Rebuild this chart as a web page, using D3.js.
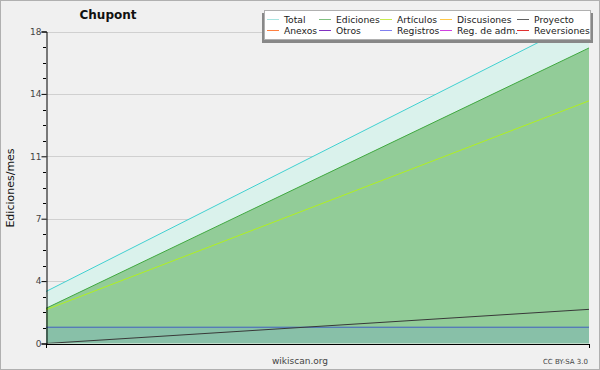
<!DOCTYPE html>
<html>
<head>
<meta charset="utf-8">
<script src="https://cdn.jsdelivr.net/npm/d3@7"></script>
<style>
  body { margin: 0; background: #f0f0f0; }
  svg { display: block; }
  text { font-family: "DejaVu Sans", sans-serif; }
</style>
</head>
<body>
<script>
// --- data ---
const periods = [0, 1];
const total      = [3.0, 18.85];
const ediciones  = [2.03, 17.05];
const articulos  = [1.95, 14.0];
const proyecto   = [0.0, 1.97];
const registros  = [0.94, 0.94];
const yTicks = [0, 3.6, 7.2, 10.8, 14.4, 18];
const legendItems = [
  ['Total', '#a8e4e0'], ['Ediciones', '#80c080'], ['Artículos', '#c8ec50'], ['Discusiones', '#ffc848'], ['Proyecto', '#606060'],
  ['Anexos', '#ff8040'], ['Otros', '#8030c0'], ['Registros', '#8080f0'], ['Reg. de adm.', '#d040e0'], ['Reversiones', '#e03030']
];

const width = 600, height = 370;
const svg = d3.select('body').append('svg').attr('width', width).attr('height', height);

svg.append('rect').attr('x', 0.5).attr('y', 0.5).attr('width', width - 1).attr('height', height - 1)
  .attr('fill', '#f0f0f0').attr('stroke', '#b0b0b0');

const x = d3.scaleLinear().domain([0, 1]).range([46, 589]);
const y = d3.scaleLinear().domain([0, 18]).range([343.5, 31.5]);

const plot = svg.append('g');
plot.append('clipPath').attr('id', 'clip').append('rect')
  .attr('x', 46).attr('y', 31.5).attr('width', 543).attr('height', 312);

// grid
plot.selectAll('line.grid').data(yTicks.slice(1)).enter().append('line')
  .attr('x1', 46).attr('x2', 589)
  .attr('y1', d => Math.round(y(d)) + 0.5).attr('y2', d => Math.round(y(d)) + 0.5)
  .attr('stroke', '#d0d0d0');

const area = vals => d3.area().x((d, i) => x(periods[i])).y0(y(0)).y1(d => y(d))(vals);
const line = vals => d3.line().x((d, i) => x(periods[i])).y(d => y(d))(vals);

const g = plot.append('g').attr('clip-path', 'url(#clip)');
g.append('path').attr('d', area(total)).attr('fill', '#daf2ec');
g.append('path').attr('d', area(ediciones)).attr('fill', '#92cc98');
g.append('path').attr('d', area(registros)).attr('fill', '#88c0a8');

g.append('path').attr('d', line(total)).attr('fill', 'none').attr('stroke', '#40d0d0');
g.append('path').attr('d', line(ediciones)).attr('fill', 'none').attr('stroke', '#40a840');
g.append('path').attr('d', line(articulos)).attr('fill', 'none').attr('stroke', '#b0f020');
g.append('path').attr('d', line(registros)).attr('fill', 'none').attr('stroke', '#4060c0');
g.append('path').attr('d', line(proyecto)).attr('fill', 'none').attr('stroke', '#383838');

// y axis
const yAxis = d3.axisLeft(y).tickValues(yTicks).tickSize(5).tickFormat(d => Math.round(d));
const ya = svg.append('g').attr('transform', 'translate(46.5,0)').call(yAxis);
ya.select('.domain').attr('stroke', '#000');
ya.selectAll('text').attr('font-size', 9).attr('fill', '#444').attr('font-family', '"DejaVu Sans", sans-serif').attr('x', -5);
const minor = d3.range(0, 18, 0.9).filter((d, i) => i % 4 !== 0);
svg.append('g').selectAll('line').data(minor).enter().append('line')
  .attr('x1', 43).attr('x2', 46)
  .attr('y1', d => Math.round(y(d)) + 0.5).attr('y2', d => Math.round(y(d)) + 0.5)
  .attr('stroke', '#000');

// x axis
const xAxis = d3.axisBottom(x).tickValues(periods).tickSize(4).tickFormat('');
const xa = svg.append('g').attr('transform', 'translate(0,344)').call(xAxis);
xa.select('.domain').attr('stroke', '#000');

// texts
svg.append('text').attr('x', 108).attr('y', 19).attr('text-anchor', 'middle')
  .attr('font-size', 12).attr('font-weight', 'bold').attr('fill', '#111').text('Chupont');
svg.append('text').attr('transform', 'translate(14,188) rotate(-90)').attr('text-anchor', 'middle')
  .attr('font-size', 11).attr('fill', '#111').text('Ediciones/mes');
svg.append('text').attr('x', 300).attr('y', 364).attr('text-anchor', 'middle')
  .attr('font-size', 9).attr('fill', '#444').text('wikiscan.org');
svg.append('text').attr('x', 588).attr('y', 364).attr('text-anchor', 'end')
  .attr('font-size', 7).attr('fill', '#444').text('CC BY-SA 3.0');

// legend
const lg = svg.append('g');
lg.append('rect').attr('x', 262).attr('y', 13).attr('width', 331).attr('height', 30).attr('fill', '#888');
lg.append('rect').attr('x', 264.5).attr('y', 10.5).attr('width', 326).attr('height', 29)
  .attr('fill', '#fff').attr('stroke', '#b0b0b0');
const colX = [267, 319, 380, 440, 517];
const item = lg.selectAll('g.item').data(legendItems).enter().append('g')
  .attr('transform', (d, i) => `translate(${colX[i % 5]},${i < 5 ? 19.5 : 30.5})`);
item.append('line').attr('x1', 0).attr('x2', 12).attr('stroke', d => d[1]).attr('stroke-width', 1);
item.append('text').attr('x', 17).attr('y', 3.5).attr('font-size', 9.2).attr('fill', '#222').text(d => d[0]);
</script>
</body>
</html>
